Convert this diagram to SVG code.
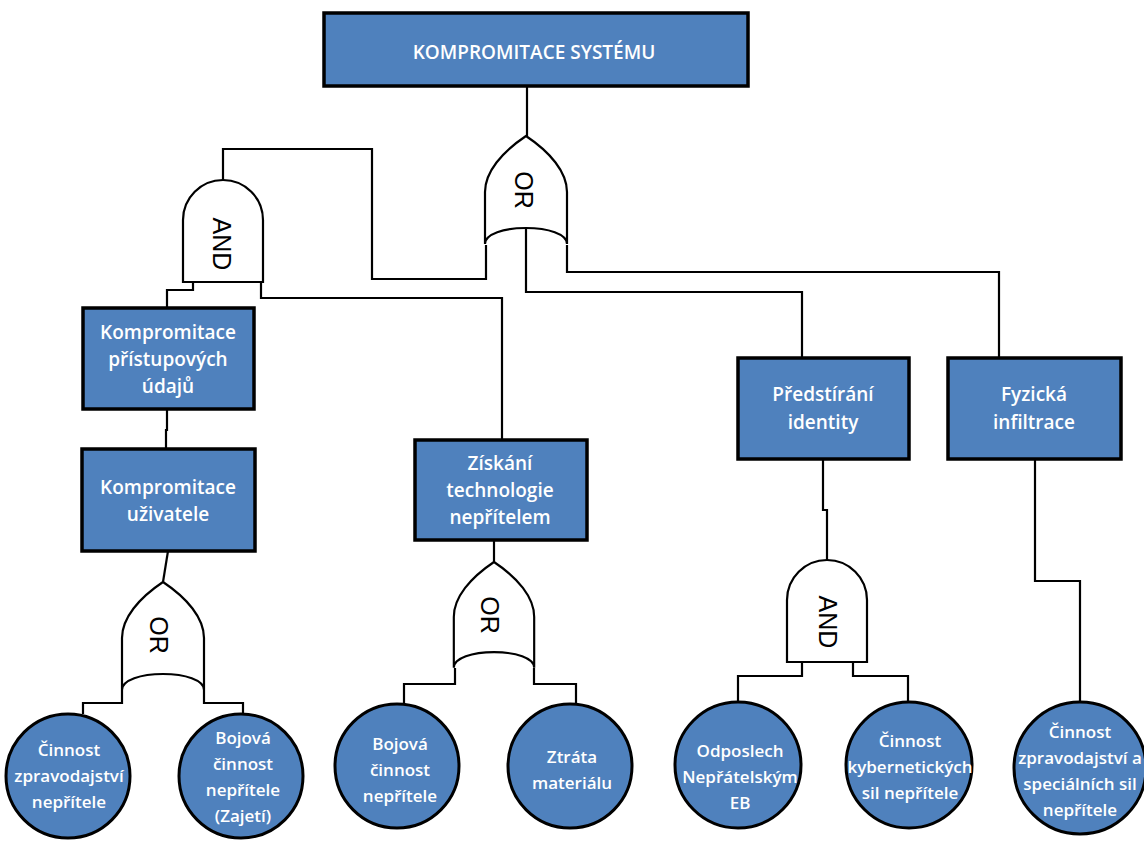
<svg xmlns="http://www.w3.org/2000/svg" width="1144" height="842" viewBox="0 0 1144 842">
<style>
.box{fill:#4f81bd;stroke:#000;stroke-width:3.5}
.ev{fill:#4f81bd;stroke:#000;stroke-width:3}
.gate{fill:#fff;stroke:#000;stroke-width:2.2}
.wire{fill:none;stroke:#000;stroke-width:2.2}
.bt{font-family:"Open Sans","DejaVu Sans",sans-serif;font-weight:600;font-size:19px;fill:#fff;text-anchor:middle}
.ct{font-family:"Open Sans","DejaVu Sans",sans-serif;font-weight:600;font-size:17px;fill:#fff;text-anchor:middle}
.gt{font-family:"Liberation Sans",Arial,sans-serif;font-size:25px;fill:#000;text-anchor:middle;dominant-baseline:central}
</style>
<defs>
<path id="orShape" d="M-41,108 L-41,56 C-41,36 -24,16 0,0 C24,16 41,36 41,56 L41,108 C41,98 22,92 0,92 C-22,92 -41,98 -41,108 Z"/>
<path id="andShape" d="M-40,102 L-40,40 A40,40 0 0 1 40,40 L40,102 Z"/>
</defs>
<g id="connectors" class="wire">
<path d="M527,86 V136"/>
<path d="M486,245 V279 H372 V149 H223 V180"/>
<path d="M526,228 V292 H802 V358"/>
<path d="M567,245 V272 H999 V358"/>
<path d="M193,282 V290 H167 V308"/>
<path d="M261,282 V298 H502 V440"/>
<path d="M167,409 V430 H166 V449"/>
<path d="M168,551 L163,582"/>
<path d="M122,690 V703 H83 V714"/>
<path d="M204,690 V703 H243 V713"/>
<path d="M494,540 V562"/>
<path d="M455,668 V684 H404 V704"/>
<path d="M534,668 V684 H576 V703"/>
<path d="M823,459 V510 H827 V560"/>
<path d="M802,661 V676 H738 V702"/>
<path d="M853,661 V676 H908 V702"/>
<path d="M1035,460 V581 H1080 V702"/>
</g>
<g id="top">
<rect class="box" x="324" y="13" width="424" height="73"/>
<text class="bt" x="534" y="59">KOMPROMITACE SYSTÉMU</text>
</g>
<g id="or-top">
<use href="#orShape" class="gate" transform="translate(526,136)"/>
<text class="gt" transform="translate(524,190) rotate(90)">OR</text>
</g>
<g id="and-left">
<use href="#andShape" class="gate" transform="translate(223,180)"/>
<text class="gt" transform="translate(222,244) rotate(90)">AND</text>
</g>
<g id="n-pristup">
<rect class="box" x="83" y="308" width="171" height="101"/>
<text class="bt" x="168" y="339">Kompromitace</text>
<text class="bt" x="168" y="366">přístupových</text>
<text class="bt" x="168" y="393">údajů</text>
</g>
<g id="n-uzivatel">
<rect class="box" x="82" y="449" width="173" height="102"/>
<text class="bt" x="168" y="494">Kompromitace</text>
<text class="bt" x="168" y="521">uživatele</text>
</g>
<g id="or-uzivatel">
<use href="#orShape" class="gate" transform="translate(163,582)"/>
<text class="gt" transform="translate(159,635) rotate(90)">OR</text>
</g>
<g id="n-ziskani">
<rect class="box" x="415" y="440" width="172" height="100"/>
<text class="bt" x="500" y="470">Získání</text>
<text class="bt" x="500" y="497">technologie</text>
<text class="bt" x="500" y="524">nepřítelem</text>
</g>
<g id="or-ziskani">
<use href="#orShape" class="gate" transform="translate(494,562) scale(0.98)"/>
<text class="gt" transform="translate(490,615) rotate(90)">OR</text>
</g>
<g id="n-predstirani">
<rect class="box" x="738" y="358" width="171" height="101"/>
<text class="bt" x="823" y="401">Předstírání</text>
<text class="bt" x="823" y="429">identity</text>
</g>
<g id="and-predstirani">
<use href="#andShape" class="gate" transform="translate(827,560)"/>
<text class="gt" transform="translate(828,622) rotate(90)">AND</text>
</g>
<g id="n-fyzicka">
<rect class="box" x="948" y="358" width="173" height="101"/>
<text class="bt" x="1034" y="401">Fyzická</text>
<text class="bt" x="1034" y="429">infiltrace</text>
</g>
<g id="e1">
<circle class="ev" cx="68" cy="776" r="62"/>
<text class="ct" x="69" y="756">Činnost</text>
<text class="ct" x="69" y="782">zpravodajství</text>
<text class="ct" x="69" y="808">nepřítele</text>
</g>
<g id="e2">
<circle class="ev" cx="241" cy="776" r="62"/>
<text class="ct" x="243" y="744">Bojová</text>
<text class="ct" x="243" y="770">činnost</text>
<text class="ct" x="243" y="796">nepřítele</text>
<text class="ct" x="243" y="822">(Zajetí)</text>
</g>
<g id="e3">
<circle class="ev" cx="397" cy="766" r="62"/>
<text class="ct" x="400" y="750">Bojová</text>
<text class="ct" x="400" y="776">činnost</text>
<text class="ct" x="400" y="802">nepřítele</text>
</g>
<g id="e4">
<circle class="ev" cx="570" cy="766" r="62"/>
<text class="ct" x="572" y="763">Ztráta</text>
<text class="ct" x="572" y="789">materiálu</text>
</g>
<g id="e5">
<circle class="ev" cx="738" cy="765" r="63"/>
<text class="ct" x="740" y="757">Odposlech</text>
<text class="ct" x="740" y="783">Nepřátelským</text>
<text class="ct" x="740" y="809">EB</text>
</g>
<g id="e6">
<circle class="ev" cx="909" cy="765" r="63"/>
<text class="ct" x="910" y="747">Činnost</text>
<text class="ct" x="910" y="773">kybernetických</text>
<text class="ct" x="910" y="799">sil nepřítele</text>
</g>
<g id="e7">
<circle class="ev" cx="1080" cy="768" r="66"/>
<text class="ct" x="1080" y="738">Činnost</text>
<text class="ct" x="1080" y="764">zpravodajství a</text>
<text class="ct" x="1080" y="790">speciálních sil</text>
<text class="ct" x="1080" y="816">nepřítele</text>
</g>
</svg>
